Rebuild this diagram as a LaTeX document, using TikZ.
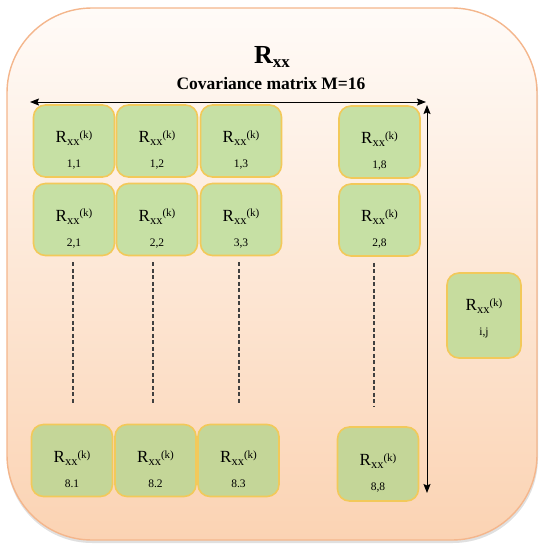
\documentclass[tikz,border=0pt]{standalone}
\usepackage{fontspec}
\setmainfont{Liberation Serif}
\usetikzlibrary{arrows.meta}
\definecolor{bgtop}{HTML}{FFFBF8}
\definecolor{bgmid}{HTML}{FDE5D2}
\definecolor{bgbot}{HTML}{FBD3B3}
\definecolor{bgborder}{HTML}{F4B68C}
\definecolor{cellA}{HTML}{C6E0A4}
\definecolor{cellB}{HTML}{C4D698}
\definecolor{cellC}{HTML}{C6DC9E}
\definecolor{cellborder}{HTML}{F2C95A}
\newcommand{\rsym}{R{\fontsize{12.5}{12}\selectfont\raisebox{-3pt}{xx}}{\fontsize{11}{11}\selectfont\raisebox{4.5pt}{(k)}}}
\newcommand{\rk}[1]{\rsym\\[7pt]{\fontsize{11.5}{12}\selectfont #1}}
\tikzset{
  cell/.style={draw=cellborder, line width=1.6pt, fill=cellA, rounded corners=12pt,
    minimum width=81pt, minimum height=72pt, inner sep=0pt},
  ct/.style={yshift=-9pt, align=center, font=\fontsize{17}{18}\selectfont, inner sep=0pt},
  dashline/.style={line width=1.3pt, draw=black!75, dash pattern=on 4pt off 2.5pt},
  dimline/.style={line width=1pt, >={Stealth[length=9pt,width=7pt,inset=1.5pt]}, <->}
}
\begin{document}
\begin{tikzpicture}[x=1pt,y=-1pt]
\useasboundingbox (0,0) rectangle (550,547);
% background panel
\fill[black, opacity=0.12, rounded corners=85pt] (7,10) rectangle (538,543);
\shade[top color=bgtop, middle color=bgmid, bottom color=bgbot, rounded corners=85pt] (7,8) rectangle (537,540);
\draw[bgborder, line width=1.4pt, rounded corners=85pt] (7,8) rectangle (537,540);
% titles
\node[font=\bfseries\fontsize{26}{28}\selectfont, inner sep=0pt] (title) at (272,57)
  {R{\fontsize{17}{17}\selectfont\raisebox{-4pt}{xx}}};
\node[font=\bfseries\fontsize{17.5}{19}\selectfont, inner sep=0pt] (subtitle) at (271,84) {Covariance matrix M=16};
% row 1
\node[cell, label={[ct]center:{\rk{1,1}}}] (b11) at (74,141) {};
\node[cell, label={[ct]center:{\rk{1,2}}}] (b12) at (157,141) {};
\node[cell, label={[ct]center:{\rk{1,3}}}] (b13) at (241,141) {};
\node[cell, label={[ct]center:{\rk{1,8}}}] (b18) at (379.5,142) {};
% row 2
\node[cell, label={[ct]center:{\rk{2,1}}}] (b21) at (74,219.5) {};
\node[cell, label={[ct]center:{\rk{2,2}}}] (b22) at (157,219.5) {};
\node[cell, label={[ct]center:{\rk{3,3}}}] (b23) at (241,219.5) {};
\node[cell, label={[ct]center:{\rk{2,8}}}] (b28) at (379.5,220) {};
% row 8
\node[cell, fill=cellB, label={[ct]center:{\rk{8.1}}}] (b81) at (72,460.5) {};
\node[cell, fill=cellB, label={[ct]center:{\rk{8.2}}}] (b82) at (155.5,460.5) {};
\node[cell, fill=cellB, label={[ct]center:{\rk{8.3}}}] (b83) at (238.5,460.5) {};
\node[cell, fill=cellB, minimum height=74pt, label={[ct]center:{\rk{8,8}}}] (b88) at (378,464) {};
% side cell
\node[cell, fill=cellC, minimum width=74pt, minimum height=85pt,
      label={[ct, yshift=6pt]center:{\rk{i,j}}}] (bij) at (484,315.5) {};
% dashed continuation lines
\draw[dashline] ([xshift=-1pt,yshift=-6pt]b21.south) -- ([xshift=-1pt,yshift=19pt]b21.south |- b81.north);
\draw[dashline] ([xshift=-4pt,yshift=-6pt]b22.south) -- ([xshift=-4pt,yshift=19pt]b22.south |- b82.north);
\draw[dashline] ([xshift=-2pt,yshift=-6pt]b23.south) -- ([xshift=-2pt,yshift=19pt]b23.south |- b83.north);
\draw[dashline] ([xshift=-5.5pt,yshift=-6pt]b28.south) -- ([xshift=-5.5pt,yshift=19pt]b28.south |- b88.north);
% dimension arrows
\coordinate (hl) at (30,102);
\coordinate (hr) at (426,102);
\coordinate (vt) at (427,105);
\coordinate (vb) at (427,493);
\draw[dimline] (hl) -- (hr);
\draw[dimline] (vt) -- (vb);
\end{tikzpicture}
\end{document}
